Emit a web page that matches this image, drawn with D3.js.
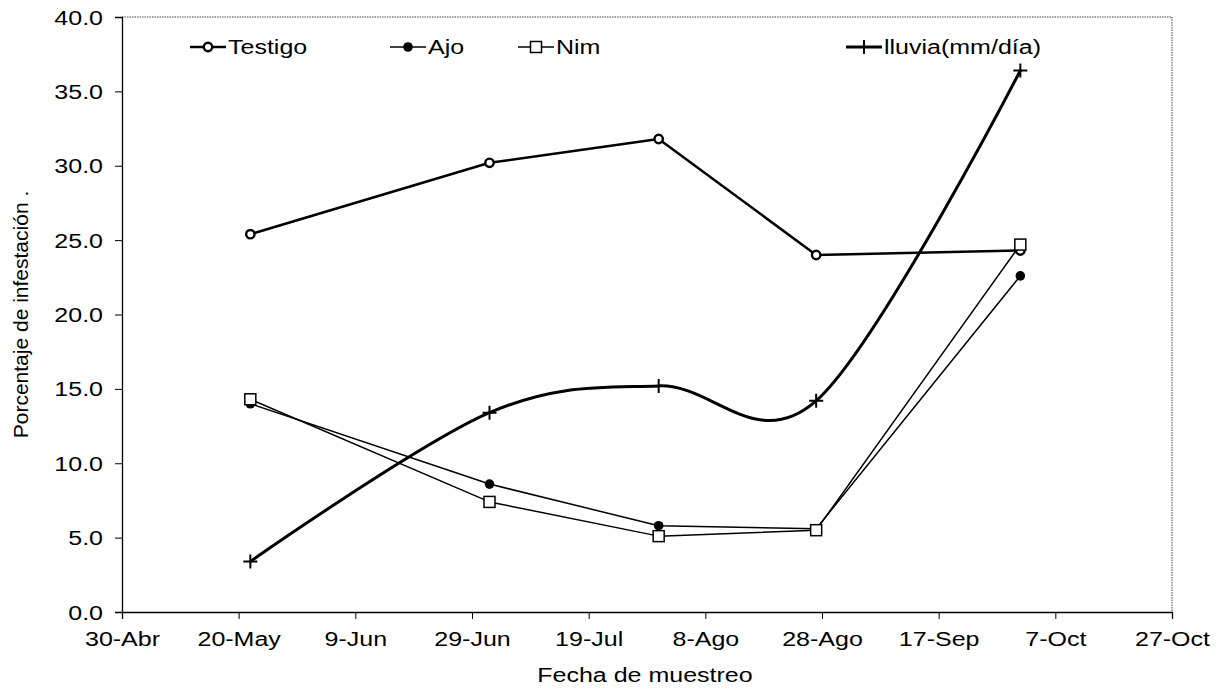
<!DOCTYPE html>
<html>
<head>
<meta charset="utf-8">
<script src="https://cdn.jsdelivr.net/npm/d3@7"></script>
<style>
  body { margin: 0; background: #fff; }
  text { font-family: "Liberation Sans", Arial, sans-serif; fill: #000; }
</style>
</head>
<body>
<div id="chart"></div>
<script>
// sampling dates and series values
const fechas = ["2003-05-22", "2003-07-02", "2003-07-31", "2003-08-27", "2003-10-01"];
const testigo = [25.4, 30.2, 31.8, 24.0, 24.3];
const ajo = [14.0, 8.6, 5.8, 5.6, 22.6];
const nim = [14.3, 7.4, 5.1, 5.5, 24.7];
const lluvia = [3.4, 13.4, 15.2, 14.2, 36.4];

// x axis ticks every 20 days
const tickDates = ["2003-04-30", "2003-05-20", "2003-06-09", "2003-06-29", "2003-07-19",
                   "2003-08-08", "2003-08-28", "2003-09-17", "2003-10-07", "2003-10-27"];
const tickLabels = ["30-Abr", "20-May", "9-Jun", "29-Jun", "19-Jul",
                    "8-Ago", "28-Ago", "17-Sep", "7-Oct", "27-Oct"];
const yTicks = [0, 5, 10, 15, 20, 25, 30, 35, 40];

const parse = d3.timeParse("%Y-%m-%d");
const width = 1222, height = 693;
const mLeft = 122, mRight = 1172, mTop = 17, mBottom = 612;

const svg = d3.select("#chart").append("svg")
    .attr("width", width)
    .attr("height", height);

const x = d3.scaleTime()
    .domain([parse(tickDates[0]), parse(tickDates[tickDates.length - 1])])
    .range([mLeft, mRight]);
const y = d3.scaleLinear().domain([0, 40]).range([mBottom, mTop]);

// plot area border (top and right dotted)
svg.append("path")
    .attr("d", `M${mLeft},${mTop}H${mRight}V${mBottom}`)
    .attr("fill", "none")
    .attr("stroke", "#444")
    .attr("stroke-width", 1)
    .attr("stroke-dasharray", "1.5,1");

// axes
const xAxis = d3.axisBottom(x)
    .tickValues(tickDates.map(parse))
    .tickFormat((d, i) => tickLabels[i])
    .tickSize(7)
    .tickPadding(13);
const gx = svg.append("g")
    .attr("transform", `translate(0,${mBottom})`)
    .call(xAxis);

const yAxis = d3.axisLeft(y)
    .tickValues(yTicks)
    .tickFormat(d3.format(".1f"))
    .tickSize(7)
    .tickPadding(12);
const gy = svg.append("g")
    .attr("transform", `translate(${mLeft},0)`)
    .call(yAxis);

[gx, gy].forEach(g => {
    g.select(".domain").attr("stroke", "#000").attr("stroke-width", 1.3);
    g.selectAll(".tick line").attr("stroke", "#000").attr("stroke-width", 1);
    g.selectAll(".tick text")
        .attr("font-size", 20)
        .attr("font-family", "Liberation Sans, Arial, sans-serif")
        .attr("fill", "#000")
        .classed("wide", true);
});
gy.selectAll(".tick text").attr("dy", "0.35em");

// axis titles
svg.append("text")
    .attr("class", "wide")
    .attr("x", 645)
    .attr("y", 682)
    .attr("text-anchor", "middle")
    .attr("font-size", 20)
    .text("Fecha de muestreo");

svg.append("text")
    .attr("transform", `translate(28,${(mTop + mBottom) / 2}) rotate(-90)`)
    .attr("text-anchor", "middle")
    .attr("font-size", 21)
    .text("Porcentaje de infestación  .");

// series
const series = [
    { name: "Testigo", values: testigo, width: 2.5, marker: "circleOpen", curve: d3.curveLinear },
    { name: "Ajo", values: ajo, width: 1.5, marker: "circle", curve: d3.curveLinear },
    { name: "Nim", values: nim, width: 1.5, marker: "square", curve: d3.curveLinear },
    { name: "lluvia(mm/día)", values: lluvia, width: 3, marker: "plus", curve: d3.curveCardinal.tension(0) }
];

function drawMarker(g, type, cx, cy) {
    if (type === "circleOpen") {
        g.append("circle").attr("cx", cx).attr("cy", cy).attr("r", 4.2)
            .attr("fill", "#fff").attr("stroke", "#000").attr("stroke-width", 2.4);
    } else if (type === "circle") {
        g.append("circle").attr("cx", cx).attr("cy", cy).attr("r", 4.8)
            .attr("fill", "#000");
    } else if (type === "square") {
        g.append("rect").attr("x", cx - 5.5).attr("y", cy - 5.5)
            .attr("width", 11).attr("height", 11)
            .attr("fill", "#fff").attr("stroke", "#000").attr("stroke-width", 1.5);
    } else if (type === "plus") {
        g.append("path")
            .attr("d", `M${cx - 7},${cy}H${cx + 7}M${cx},${cy - 7}V${cy + 7}`)
            .attr("stroke", "#000").attr("stroke-width", 2);
    }
}

series.forEach(s => {
    const pts = s.values.map((v, i) => [x(parse(fechas[i])), y(v)]);
    svg.append("path")
        .attr("d", d3.line().curve(s.curve)(pts))
        .attr("fill", "none")
        .attr("stroke", "#000")
        .attr("stroke-width", s.width)
        .attr("stroke-linejoin", "round");
    const g = svg.append("g");
    pts.forEach(p => drawMarker(g, s.marker, p[0], p[1]));
});

// legend
const legendX = [190, 390, 518, 846];
series.forEach((s, i) => {
    const g = svg.append("g").attr("transform", `translate(${legendX[i]},47)`);
    g.append("line").attr("x1", 0).attr("x2", 36).attr("y1", 0).attr("y2", 0)
        .attr("stroke", "#000").attr("stroke-width", s.width);
    drawMarker(g, s.marker, 18, 0);
    g.append("text").attr("class", "wide")
        .attr("x", 38).attr("y", 0).attr("dy", "0.35em")
        .attr("font-size", 20)
        .text(s.name);
});

// the scanned figure has horizontally widened lettering
svg.selectAll("text.wide").each(function() {
    const len = this.getComputedTextLength();
    d3.select(this)
        .attr("textLength", len * 1.25)
        .attr("lengthAdjust", "spacingAndGlyphs");
});
</script>
</body>
</html>
